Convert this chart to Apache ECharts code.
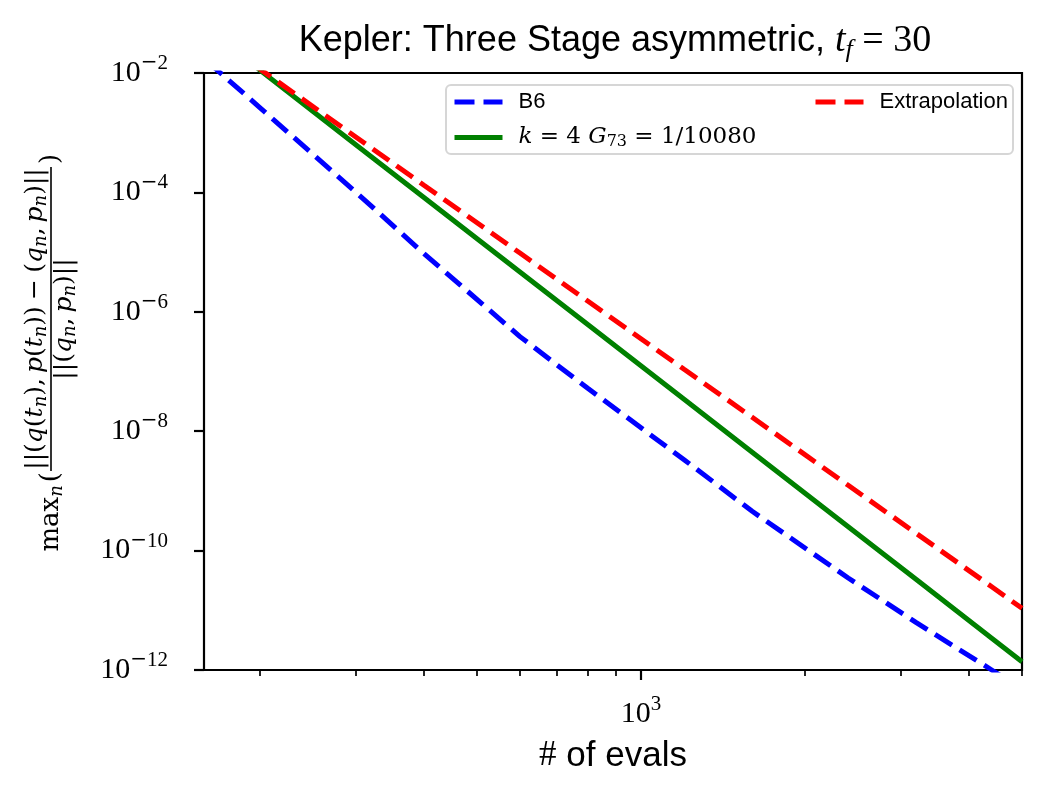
<!DOCTYPE html>
<html>
<head>
<meta charset="utf-8">
<script src="https://cdn.jsdelivr.net/npm/echarts@6/dist/echarts.min.js"></script>
<style>
html, body { margin: 0; padding: 0; background: #fff; }
#chart { width: 1049px; height: 800px; }
</style>
</head>
<body>
<div id="chart"></div>
<script>
// values (log-log convergence plot)
const evals = [160, 200, 300, 400, 600, 800, 1200, 1600, 2400, 3200, 4400, 5000];
const b6Err = [1.58e-2, 2.64e-3, 1.01e-4, 9.46e-6, 3.84e-7, 5.18e-8, 3.33e-9, 4.55e-10, 3.48e-11, 6.21e-12, 1.0e-12, 4.8e-13];
const g73Err = [5.5e-2, 1.12e-2, 6.3e-4, 8.2e-5, 4.65e-6, 6.05e-7, 3.42e-8, 4.45e-9, 2.51e-10, 3.27e-11, 3.41e-12, 1.38e-12];
const extrapErr = [4.9e-2, 1.17e-2, 8.49e-4, 1.32e-4, 9.64e-6, 1.5e-6, 1.09e-7, 1.71e-8, 1.24e-9, 1.94e-10, 2.48e-11, 1.08e-11];
const seriesNames = ["B6", "k = 4 G73 = 1/10080", "Extrapolation"];

const xMin = 158, xMax = 5000;
const yMin = 1e-12, yMax = 1e-2;
const xMajorTicks = [1000];
const xMinorTicks = [200, 300, 400, 500, 600, 700, 800, 900, 2000, 3000, 4000, 5000];
const yTicks = [1e-12, 1e-10, 1e-8, 1e-6, 1e-4, 1e-2];

const SERIF = "'Liberation Serif', 'DejaVu Serif', serif";
const WSERIF = "'DejaVu Serif', 'Liberation Serif', serif";
const SANS = "'Liberation Sans', 'DejaVu Sans', sans-serif";

function pairs(ys) {
    return evals.map((x, i) => [x, ys[i]]);
}

function powLabel(value) {
    const exp = Math.round(Math.log10(value));
    if (exp < 0) {
        return "{b|10}{m|\u2212}{e|" + (-exp) + "}";
    }
    return "{b|10}{e|" + exp + "}";
}

const powRich = {
    b: { fontFamily: SERIF, fontSize: 30, lineHeight: 40, color: "#000" },
    m: { fontFamily: WSERIF, fontSize: 20, lineHeight: 20, verticalAlign: "top", color: "#000" },
    e: { fontFamily: SERIF, fontSize: 21, lineHeight: 20, verticalAlign: "top", color: "#000" },
};

function legendLabel(name) {
    if (name === seriesNames[1]) {
        return "{i|k}{n| = 4 }{i|G}{sb|73}{n| = 1/10080}";
    }
    return "{s|" + name + "}";
}

const legendText = {
    color: "#000",
    padding: [0, 0, 0, 11],
    rich: {
        s: { fontFamily: SANS, fontSize: 22, lineHeight: 24, color: "#000" },
        i: { fontFamily: WSERIF, fontStyle: "italic", fontSize: 23, lineHeight: 24, color: "#000" },
        n: { fontFamily: WSERIF, fontSize: 23, lineHeight: 24, color: "#000" },
        sb: { fontFamily: WSERIF, fontSize: 16, lineHeight: 11, verticalAlign: "bottom", color: "#000" },
    },
};

// zrender rich styles for the graphic texts (title, y label)
const bigRich = {
    r: { font: "26px " + WSERIF, fill: "#000", lineHeight: 30 },
    h: { font: "26px " + WSERIF, fill: "#000", lineHeight: 30, width: 3 },
    s: { font: "italic 18px " + WSERIF, fill: "#000", lineHeight: 13, verticalAlign: "bottom" },
};
const smallRich = {
    r: { font: "25px " + WSERIF, fill: "#000", lineHeight: 30 },
    i: { font: "italic 25px " + WSERIF, fill: "#000", lineHeight: 30 },
    s: { font: "italic 18px " + WSERIF, fill: "#000", lineHeight: 15, verticalAlign: "bottom" },
};
const numer = "{r|||(}{i|q}{r|(}{i|t}{s|n}{r|),\u2009}{i|p}{r|(}{i|t}{s|n}{r|))\u2005\u2212\u2005(}{i|q}{s|n}{r|,\u2009}{i|p}{s|n}{r|)||}";
const denom = "{r|||(}{i|q}{s|n}{r|,\u2009}{i|p}{s|n}{r|)||}";

const chart = echarts.init(document.getElementById("chart"));

const option = {
    animation: false,
    backgroundColor: "#fff",
    grid: {
        left: 204,
        top: 73,
        width: 818,
        height: 597,
        show: true,
        borderColor: "#000",
        borderWidth: 2.2,
        backgroundColor: "transparent",
        containLabel: false,
        outerBoundsMode: "none",
    },
    xAxis: [
        {
            type: "log",
            logBase: 10,
            min: xMin,
            max: xMax,
            position: "bottom",
            axisLine: { show: false, onZero: false },
            axisTick: { show: true, customValues: xMajorTicks, length: 10, lineStyle: { color: "#000", width: 2.2 } },
            axisLabel: { customValues: xMajorTicks, formatter: powLabel, margin: 24, color: "#000", rich: powRich, hideOverlap: false },
            splitLine: { show: false },
            name: "{m|#}{s| of evals}",
            nameLocation: "middle",
            nameGap: 66,
            nameTextStyle: {
                color: "#000",
                rich: {
                    m: { fontFamily: SERIF, fontSize: 35, lineHeight: 40, color: "#000" },
                    s: { fontFamily: SANS, fontSize: 35, lineHeight: 40, color: "#000" },
                },
            },
        },
        {
            type: "log",
            logBase: 10,
            min: xMin,
            max: xMax,
            position: "bottom",
            gridIndex: 0,
            axisLine: { show: false, onZero: false },
            axisTick: { show: true, customValues: xMinorTicks, length: 6, lineStyle: { color: "#000", width: 1.7 } },
            axisLabel: { show: false },
            splitLine: { show: false },
        },
    ],
    yAxis: {
        type: "log",
        logBase: 10,
        min: yMin,
        max: yMax,
        axisLine: { show: false },
        axisTick: { show: true, customValues: yTicks, length: 10, lineStyle: { color: "#000", width: 2.2 } },
        axisLabel: { customValues: yTicks, formatter: powLabel, margin: 36, color: "#000", rich: powRich, hideOverlap: false },
        splitLine: { show: false },
    },
    legend: [
        {
            data: [seriesNames[0], seriesNames[1]],
            orient: "vertical",
            left: 452,
            top: 91,
            padding: 0,
            itemWidth: 48,
            itemHeight: 14,
            itemGap: 13,
            selectedMode: false,
            itemStyle: { opacity: 0 },
            lineStyle: { width: 5 },
            formatter: legendLabel,
            textStyle: legendText,
            z: 5,
        },
        {
            data: [seriesNames[2]],
            orient: "vertical",
            left: 813,
            top: 91,
            padding: 0,
            itemWidth: 48,
            itemHeight: 14,
            selectedMode: false,
            itemStyle: { opacity: 0 },
            lineStyle: { width: 5 },
            formatter: legendLabel,
            textStyle: legendText,
            z: 5,
        },
    ],
    series: [
        {
            name: seriesNames[0],
            type: "line",
            data: pairs(b6Err),
            symbol: "none",
            showSymbol: false,
            clip: true,
            silent: true,
            itemStyle: { color: "#0000ff" },
            lineStyle: { color: "#0000ff", width: 5, type: [20, 9] },
        },
        {
            name: seriesNames[1],
            type: "line",
            data: pairs(g73Err),
            symbol: "none",
            showSymbol: false,
            clip: true,
            silent: true,
            itemStyle: { color: "#008000" },
            lineStyle: { color: "#008000", width: 5, type: "solid" },
        },
        {
            name: seriesNames[2],
            type: "line",
            data: pairs(extrapErr),
            symbol: "none",
            showSymbol: false,
            clip: true,
            silent: true,
            itemStyle: { color: "#ff0000" },
            lineStyle: { color: "#ff0000", width: 5, type: [20, 9] },
        },
    ],
    graphic: [
        {
            type: "rect",
            z: 4,
            shape: { x: 446, y: 85, width: 567, height: 69, r: 5 },
            style: { fill: "rgba(255,255,255,0.8)", stroke: "#d6d6d6", lineWidth: 2 },
        },
        {
            type: "text",
            x: 615,
            y: 41,
            z: 10,
            style: {
                text: "{s|Kepler: Three Stage asymmetric, }{i|t}{sb|f}{n| = 30}",
                align: "center",
                verticalAlign: "middle",
                rich: {
                    s: { font: "36px " + SANS, fill: "#000", lineHeight: 44 },
                    i: { font: "italic 38px " + SERIF, fill: "#000", lineHeight: 44 },
                    sb: { font: "italic 26px " + SERIF, fill: "#000", lineHeight: 20, verticalAlign: "bottom" },
                    n: { font: "38px " + SERIF, fill: "#000", lineHeight: 44 },
                },
            },
        },
        {
            // rotated y-axis label: max_n( numerator / denominator )
            type: "group",
            x: 51,
            y: 371,
            rotation: Math.PI / 2,
            z: 10,
            children: [
                {
                    type: "text",
                    x: -101,
                    y: -15,
                    style: { text: "{r|max}{s|n}{h| }{r|(}", align: "right", verticalAlign: "top", rich: bigRich },
                },
                {
                    type: "text",
                    x: 52,
                    y: -1,
                    style: { text: numer, align: "center", verticalAlign: "bottom", rich: smallRich },
                },
                {
                    type: "line",
                    shape: { x1: -100, y1: 0, x2: 204, y2: 0 },
                    style: { stroke: "#000", lineWidth: 1.6 },
                },
                {
                    type: "text",
                    x: 52,
                    y: -2,
                    style: { text: denom, align: "center", verticalAlign: "top", rich: smallRich },
                },
                {
                    type: "text",
                    x: 207,
                    y: -15,
                    style: { text: "{r|)}", align: "left", verticalAlign: "top", rich: bigRich },
                },
            ],
        },
    ],
};

chart.setOption(option);
window.addEventListener("resize", () => chart.resize());
</script>
</body>
</html>
